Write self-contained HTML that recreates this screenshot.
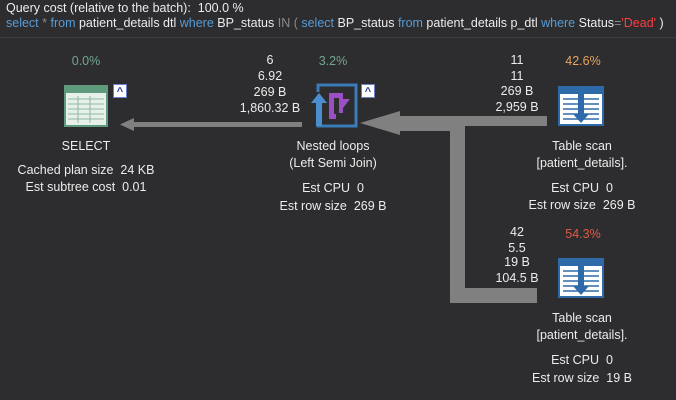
<!DOCTYPE html>
<html><head><style>
body{margin:0;width:676px;height:400px;background:#2d2d30;overflow:hidden;font-family:"Liberation Sans",sans-serif;font-size:12.5px;color:#ececec;position:relative}
.t{position:absolute;white-space:nowrap;transform:translateX(-50%);line-height:14px}
.l{position:absolute;white-space:nowrap;line-height:14px}
.k{color:#569cd6}.g{color:#8a8a8a}.r{color:#ff3b3b}
.p{color:#72a58e}
.car{position:absolute;width:14px;height:14px;background:#fff;border:1px solid #6b7fc7;box-sizing:border-box;color:#2b3f9e;font-size:11px;text-align:center;line-height:14px;font-weight:bold}
</style></head><body>
<div class="l" style="left:6px;top:1px">Query cost (relative to the batch):&nbsp; 100.0 %</div>
<div class="l" style="left:6px;top:16px"><span class="k">select</span> <span class="g">*</span> <span class="k">from</span> patient_details dtl <span class="k">where</span> BP_status <span class="g">IN (</span> <span class="k">select</span> BP_status <span class="k">from</span> patient_details p_dtl <span class="k">where</span> Status<span class="g">=</span><span class="r">'Dead'</span> )</div>
<div style="position:absolute;left:0;top:37px;width:676px;height:1px;background:#3c3c3c"></div>

<svg width="676" height="400" style="position:absolute;left:0;top:0">
<rect x="130" y="122" width="172" height="5" fill="#808080"/>
<polygon points="120,124.5 134,118 134,131" fill="#808080"/>
<rect x="440" y="116" width="107" height="10" fill="#808080"/>
<rect x="398" y="116" width="67" height="15" fill="#808080"/>
<rect x="450" y="116" width="15" height="187" fill="#808080"/>
<rect x="450" y="288" width="87" height="15" fill="#808080"/>
<polygon points="360,123 400,111 400,135" fill="#808080"/>
<rect x="65" y="86" width="42" height="40" fill="#e8f0ea" stroke="#5f9a7c" stroke-width="2"/>
<rect x="65" y="86" width="42" height="7" fill="#5f9a7c"/>
<g stroke="#8fb9a2" stroke-width="1">
<line x1="68" y1="99" x2="104" y2="99"/><line x1="68" y1="104" x2="104" y2="104"/><line x1="68" y1="109" x2="104" y2="109"/><line x1="68" y1="114" x2="104" y2="114"/><line x1="68" y1="119" x2="104" y2="119"/>
<line x1="78" y1="96" x2="78" y2="123"/><line x1="90" y1="96" x2="90" y2="123"/>
</g>
<rect x="318" y="85" width="38" height="41" fill="none" stroke="#3a7cb8" stroke-width="3"/>
<rect x="310" y="92" width="12" height="34" fill="#2d2d30"/>
<polygon points="311,103 319,93 327,103 322,103 322,126 316,126 316,103" fill="#4b8ed0"/>
<path d="M329 93 H343 V99 H350 L343 108 V113 H336 V119 H329 Z" fill="#9b4fc4"/>
<rect x="334" y="98" width="5" height="16" fill="#2d2d30"/>
<g id="ts">
<rect x="559" y="87" width="44" height="38" fill="#fff" stroke="#2f6aa8" stroke-width="2"/>
<rect x="559" y="87" width="44" height="7" fill="#2f6aa8"/>
<g stroke="#2f6aa8" stroke-width="1.5"><line x1="563" y1="99" x2="599" y2="99"/><line x1="563" y1="104" x2="599" y2="104"/><line x1="563" y1="109" x2="599" y2="109"/><line x1="563" y1="114" x2="599" y2="114"/><line x1="563" y1="119" x2="599" y2="119"/></g>
<rect x="578" y="94" width="6" height="22" fill="#2f6aa8"/>
<polygon points="573,114 589,114 581,123" fill="#2f6aa8"/>
</g>
<use href="#ts" y="172"/>
</svg>
<div class="car" style="left:113px;top:84px">^</div>
<div class="car" style="left:361px;top:84px">^</div>

<div class="t p" style="left:86px;top:54px">0.0%</div>
<div class="t" style="left:86px;top:139px">SELECT</div>
<div class="t" style="left:86px;top:163px">Cached plan size&nbsp; 24 KB</div>
<div class="t" style="left:86px;top:180px">Est subtree cost&nbsp; 0.01</div>

<div class="t" style="left:270px;top:53px">6</div>
<div class="t" style="left:270px;top:69px">6.92</div>
<div class="t" style="left:270px;top:85px">269 B</div>
<div class="t" style="left:270px;top:101px">1,860.32 B</div>
<div class="t p" style="left:333px;top:54px">3.2%</div>
<div class="t" style="left:333px;top:139px">Nested loops</div>
<div class="t" style="left:333px;top:156px">(Left Semi Join)</div>
<div class="t" style="left:333px;top:181px">Est CPU&nbsp; 0</div>
<div class="t" style="left:333px;top:199px">Est row size&nbsp; 269 B</div>

<div class="t" style="left:517px;top:53px">11</div>
<div class="t" style="left:517px;top:69px">11</div>
<div class="t" style="left:517px;top:84px">269 B</div>
<div class="t" style="left:517px;top:100px">2,959 B</div>
<div class="t" style="left:583px;top:54px;color:#e6a55a">42.6%</div>
<div class="t" style="left:582px;top:139px">Table scan</div>
<div class="t" style="left:582px;top:156px">[patient_details].</div>
<div class="t" style="left:582px;top:181px">Est CPU&nbsp; 0</div>
<div class="t" style="left:582px;top:198px">Est row size&nbsp; 269 B</div>

<div class="t" style="left:517px;top:225px">42</div>
<div class="t" style="left:517px;top:241px">5.5</div>
<div class="t" style="left:517px;top:255px">19 B</div>
<div class="t" style="left:517px;top:271px">104.5 B</div>
<div class="t" style="left:583px;top:227px;color:#e05a44">54.3%</div>
<div class="t" style="left:582px;top:311px">Table scan</div>
<div class="t" style="left:582px;top:328px">[patient_details].</div>
<div class="t" style="left:582px;top:353px">Est CPU&nbsp; 0</div>
<div class="t" style="left:582px;top:371px">Est row size&nbsp; 19 B</div>
</body></html>
